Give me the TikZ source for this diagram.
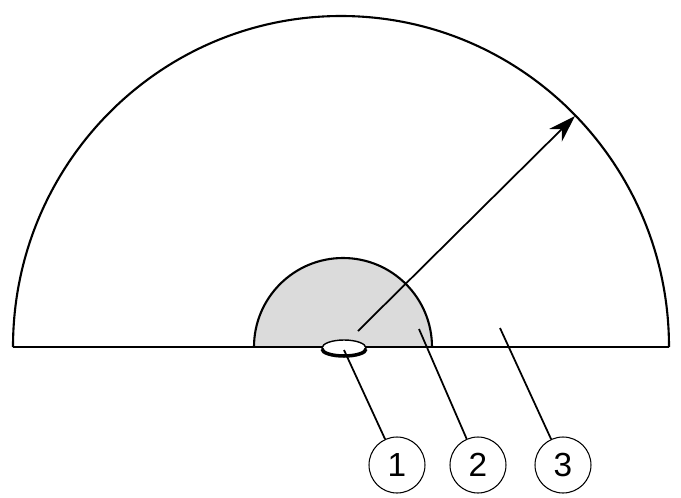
\documentclass[tikz,border=0pt]{standalone}
\usepackage{fontspec}
\setsansfont{Liberation Sans}
\usepackage{tikz}
\usetikzlibrary{arrows.meta,calc,positioning,shapes.geometric}

\tikzset{
  callout/.style={circle,draw,line width=0.6pt,minimum size=1.12cm,inner sep=0pt,font=\sffamily\fontsize{19}{19}\selectfont},
  lead/.style={line width=1pt},
}

\begin{document}
\begin{tikzpicture}[x=0.02cm,y=0.02cm]
\useasboundingbox (0,0) rectangle (681,-498);
% inner zone
\fill[black!14] (254,-347) arc[start angle=180,end angle=0,radius=89] -- cycle;
\draw[line width=1.2pt] (254,-347) arc[start angle=180,end angle=0,radius=89];
% outer zone
\draw[line width=1.2pt] (13,-347) arc[start angle=180,end angle=0,x radius=328,y radius=331];
\draw[line width=1.5pt] (13,-347) -- (669,-347);
% sensor
\node[ellipse,draw,fill=white,line width=0.8pt,minimum width=0.88cm,minimum height=0.32cm,inner sep=0pt] (sensor) at (344,-348) {};
\draw[line width=2pt] (322,-349) arc[start angle=180,end angle=360,x radius=22,y radius=7];
% range
\coordinate (arrstart) at (358,-331);
\coordinate (arrend) at (575,-116);
\draw[line width=1pt,-{Stealth[length=0.55cm,width=0.36cm]}] (arrstart) -- (arrend);
% callouts
\node[callout] (c1) at (397,-465) {1};
\node[callout] (c2) at (478,-465) {2};
\node[callout] (c3) at (563,-465) {3};
\coordinate (p1) at (344,-350);
\coordinate (p2) at (419,-329);
\coordinate (p3) at (500,-328);
\draw[lead] (p1) -- (c1);
\draw[lead] (p2) -- (c2);
\draw[lead] (p3) -- (c3);
\end{tikzpicture}
\end{document}
